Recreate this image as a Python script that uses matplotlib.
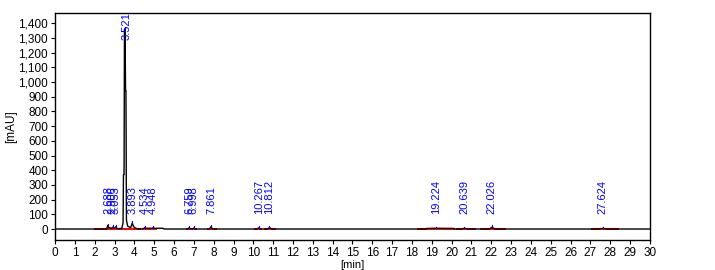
import numpy as np
import matplotlib
matplotlib.use("Agg")
import matplotlib.pyplot as plt

plt.rcParams['font.family'] = ['Liberation Sans', 'DejaVu Sans']

# chromatogram trace (min, mAU)
trace_t = [0.0, 2.60, 2.66, 2.70, 2.76, 2.84, 2.90, 2.96, 3.02, 3.06, 3.12, 3.36,
           3.43, 3.45, 3.48, 3.50, 3.53, 3.555, 3.575, 3.60, 3.66, 3.72, 3.82, 3.89,
           3.95, 4.02, 4.15, 4.35, 4.50, 4.53, 4.58, 4.90, 4.95, 5.00, 5.45, 5.50,
           6.70, 6.76, 6.82, 6.95, 7.00, 7.06, 7.78, 7.86, 7.95, 10.18, 10.27, 10.34,
           10.72, 10.81, 10.92, 18.70, 18.75, 19.22, 20.10, 20.15, 20.50, 20.64, 20.80,
           21.90, 22.03, 22.20, 27.40, 27.62, 27.85, 30.0]
trace_y = [0, 0, 25, 12, 8, 4, 12, 5, 8, 15, 3, 3,
           40, 370, 370, 1360, 1360, 940, 940, 60, 20, 15, 10, 40,
           20, 8, 2, 0, 5, 10, 5, 5, 9, 5, 5, 0,
           0, 8, 2, 2, 7, 0, 0, 15, 0, 0, 8, 0,
           0, 10, 0, 0, 4, 5, 4, 0, 0, 5, 0,
           0, 12, 0, 0, 5, 0, 0]

# integrated peaks
peak_rt = [2.688, 2.906, 3.053, 3.521, 3.893, 4.534, 4.948, 6.759, 6.998, 7.861,
           10.267, 10.812, 19.224, 20.639, 22.026, 27.624]
peak_h = [25, 12, 15, 1360, 40, 10, 9, 8, 7, 15, 8, 10, 5, 5, 12, 5]

# baseline segments (start, end)
base_start = [2.0, 4.45, 6.65, 7.70, 10.10, 10.60, 18.30, 20.25, 21.50, 27.10]
base_end = [4.30, 5.10, 7.10, 8.10, 10.40, 11.10, 20.10, 21.20, 22.70, 28.40]

fig = plt.figure(figsize=(7.15, 2.7), dpi=100)
ax = fig.add_axes([0.077, 0.111, 0.832, 0.841])

ax.plot(trace_t, trace_y, color='black', lw=1.0, zorder=3)
for s, e in zip(base_start, base_end):
    ax.plot([s, e], [-2, -2], color='red', lw=1.4, zorder=2)

for rt, h in zip(peak_rt, peak_h):
    ax.plot([rt, rt], [h, h + 12], color='blue', lw=0.8, zorder=4)
    if h > 1000:
        ax.text(rt + 0.08, 1475, f"{rt:.3f}", rotation=90, color='blue', fontsize=8,
                ha='center', va='top', clip_on=True)
    else:
        ax.text(rt, 105, f"{rt:.3f}", rotation=90, color='blue', fontsize=8,
                ha='center', va='bottom')

ax.set_xlim(0, 30)
ax.set_ylim(-75, 1470)
ax.set_xticks(range(0, 31))
ax.set_yticks(range(0, 1401, 100))
ax.set_yticklabels([f"{v:,}" for v in range(0, 1401, 100)])
ax.tick_params(labelsize=8.5, length=3, width=0.8, pad=2)
ax.set_xlabel('[min]', fontsize=8, labelpad=1)
ax.set_ylabel('[mAU]', fontsize=8.5)
ax.yaxis.set_label_coords(-0.064, 0.5)
for sp in ax.spines.values():
    sp.set_linewidth(1.0)

fig.savefig('out.png', dpi=100)
